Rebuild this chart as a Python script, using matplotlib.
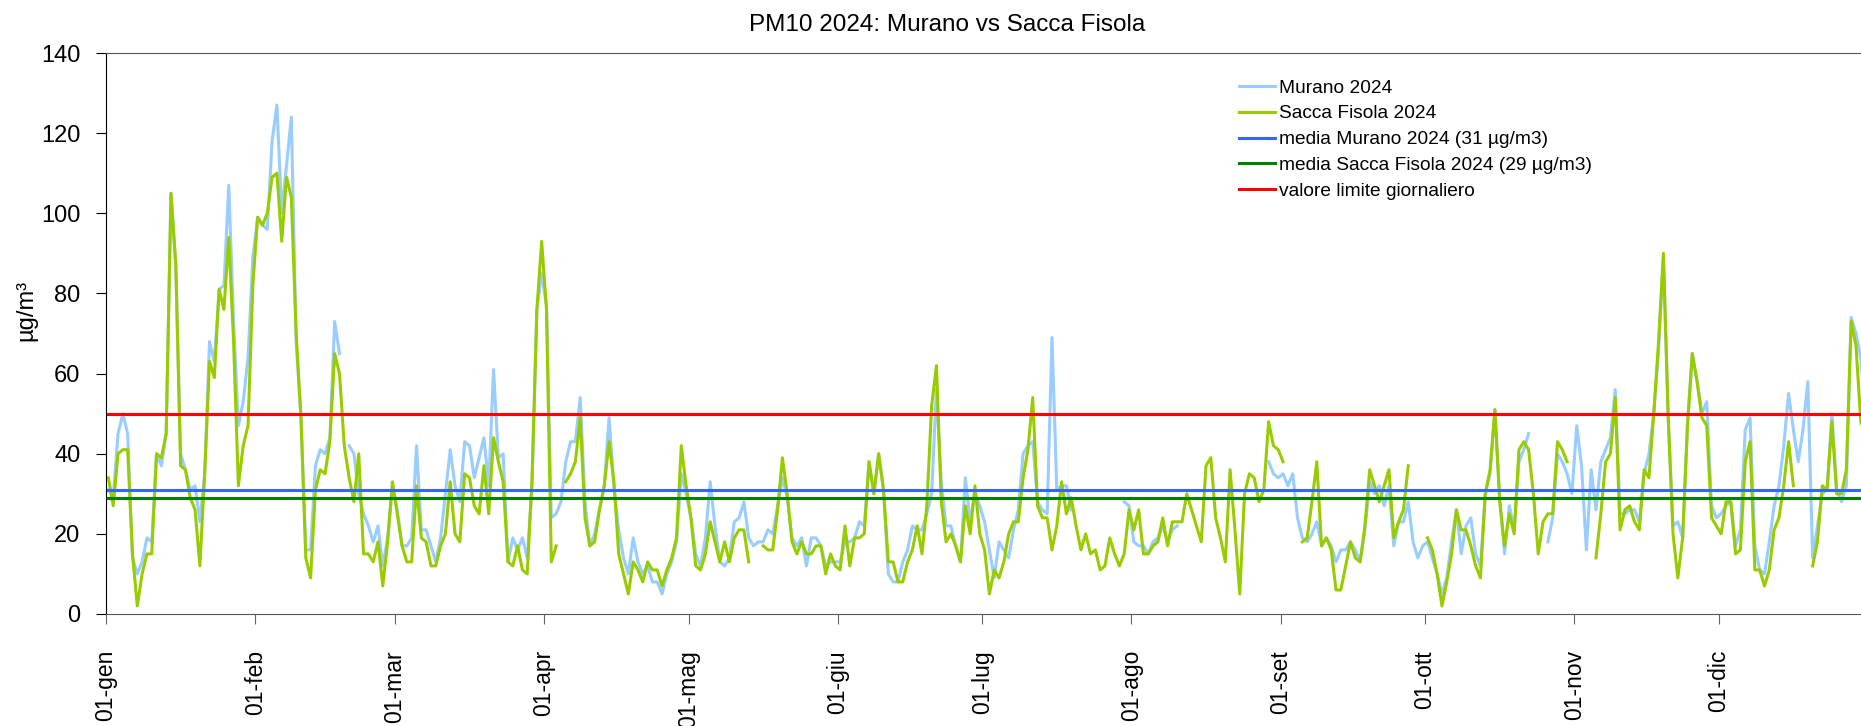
import numpy as np
import matplotlib
matplotlib.use("Agg")
import matplotlib.pyplot as plt
from matplotlib.lines import Line2D

plt.rcParams['font.family'] = ['Liberation Sans', 'DejaVu Sans']

N = None  # missing day

# daily PM10 (ug/m3), one row per month, 2024 (366 days)
murano = [
    31, 29, 45, 50, 45, 14, 10, 13, 19, 18, 40, 37, 45, 105, 87, 40, 36, 31, 32, 23, 35, 68, 63, 81, 82, 107, 73, 47, 53, 64, 89,
    99, 97, 96, 118, 127, 100, 112, 124, 68, 49, 16, 16, 37, 41, 40, 44, 73, 65, N, 42, 40, 30, 25, 22, 18, 22, 12, 19, 32,
    26, 17, 17, 19, 42, 21, 21, 17, 13, 19, 30, 41, 32, 28, 43, 42, 34, 39, 44, 32, 61, 39, 40, 13, 19, 16, 19, 14, 32, 76, 85,
    77, 24, 25, 28, 38, 43, 43, 54, 28, 17, 20, 26, 32, 49, 32, 21, 14, 10, 19, 13, 10, 12, 8, 8, 5, 10, 13, 18, 35, 30,
    24, 15, 12, 19, 33, 22, 13, 12, 14, 23, 24, 28, 19, 17, 18, 18, 21, 20, 27, 34, 29, 19, 17, 19, 12, 19, 19, 17, 12, 13, 13,
    13, 18, 18, 19, 23, 22, 38, 30, 40, 31, 10, 8, 8, 13, 16, 22, 21, 21, 25, 30, 56, 33, 22, 22, 17, 13, 34, 23, 30, 27,
    23, 16, 9, 18, 16, 14, 21, 26, 40, 42, 43, 28, 26, 25, 69, 31, 32, 32, 26, N, N, N, N, N, N, N, N, N, N, 28, 27,
    18, 17, 17, 15, 18, 19, 22, 18, 21, 22, N, N, N, N, N, N, N, N, N, N, N, N, N, N, N, N, N, N, 38, 35, 34,
    35, 32, 35, 24, 19, 18, 20, 23, 17, 19, 17, 13, 16, 16, 18, 16, 13, 21, 33, 30, 32, 27, 32, 17, 23, 23, 28, 18, 14, 17,
    18, 14, 10, 5, 9, 18, 26, 15, 22, 24, 15, 12, 30, 35, 51, 29, 15, 27, 21, 38, 41, 45, N, N, N, 18, 24, 40, 38, 35, 30,
    47, 37, 16, 36, 26, 38, 41, 44, 56, 25, 25, 26, 26, 23, 35, 40, 50, 66, 89, 49, 22, 23, 19, 47, 65, 58, 50, 53, 27, 24,
    25, 27, 28, 17, 21, 46, 49, 17, 11, 10, 18, 27, 32, 42, 55, 46, 38, 46, 58, 14, 22, 30, 31, 50, 31, 28, 32, 74, 70, 64, 48,
]

sacca = [
    34, 27, 40, 41, 41, 15, 2, 10, 15, 15, 40, 39, 45, 105, 87, 37, 36, 29, 26, 12, 35, 63, 59, 81, 76, 94, 68, 32, 42, 47, 82,
    99, 97, 100, 109, 110, 93, 109, 104, 70, 49, 14, 9, 31, 36, 35, 43, 65, 60, 42, 34, 28, 40, 15, 15, 13, 18, 7, 18, 33,
    25, 17, 13, 13, 32, 19, 18, 12, 12, 17, 20, 33, 20, 18, 35, 34, 27, 25, 37, 25, 44, 38, 33, 13, 12, 17, 11, 10, 34, 76, 93,
    76, 13, 17, N, 33, 35, 38, 49, 24, 17, 18, 26, 32, 43, 33, 15, 10, 5, 13, 11, 8, 13, 11, 11, 7, 11, 14, 19, 42, 32,
    24, 12, 11, 15, 23, 18, 13, 18, 13, 19, 21, 21, 13, N, N, 17, 16, 16, 26, 39, 30, 18, 15, 18, 15, 15, 17, 17, 10, 15, 12,
    11, 22, 12, 19, 19, 20, 38, 30, 40, 31, 13, 13, 8, 8, 13, 16, 22, 15, 27, 52, 62, 28, 18, 20, 17, 13, 27, 20, 32, 20,
    16, 5, 11, 9, 13, 20, 23, 23, 34, 41, 54, 27, 24, 24, 16, 22, 33, 25, 29, 22, 16, 20, 15, 16, 11, 12, 19, 15, 12, 15, 26,
    21, 26, 15, 15, 17, 18, 24, 17, 23, 23, 23, 30, 26, 22, 18, 37, 39, 24, 19, 13, 36, 21, 5, 30, 35, 34, 28, 31, 48, 42, 41,
    38, N, N, N, 18, 19, 28, 38, 17, 19, 16, 6, 6, 12, 18, 14, 13, 22, 36, 32, 28, 32, 36, 19, 23, 26, 37, N, N, N,
    19, 16, 10, 2, 8, 15, 26, 21, 21, 17, 12, 9, 30, 36, 51, 28, 17, 25, 20, 41, 43, 41, 30, 15, 23, 25, 25, 43, 41, 38, N,
    N, N, N, N, 14, 25, 38, 40, 54, 21, 26, 27, 23, 21, 36, 34, 50, 68, 90, 49, 20, 9, 19, 47, 65, 58, 49, 47, 24, 22,
    20, 28, 28, 15, 16, 38, 43, 11, 11, 7, 11, 21, 24, 32, 43, 32, N, N, N, 12, 18, 32, 31, 48, 30, 30, 36, 73, 67, 48, 45,
]

media_murano = 31
media_sacca = 29
limite = 50

month_labels = ['01-gen', '01-feb', '01-mar', '01-apr', '01-mag', '01-giu',
                '01-lug', '01-ago', '01-set', '01-ott', '01-nov', '01-dic']
month_days = [31, 29, 31, 30, 31, 30, 31, 31, 30, 31, 30, 31]

labels = ['Murano 2024', 'Sacca Fisola 2024',
          'media Murano 2024 (31 µg/m3)', 'media Sacca Fisola 2024 (29 µg/m3)',
          'valore limite giornaliero']
colors = ['#99CCFF', '#99CC00', '#3366FF', '#008000', '#FF0000']

mur = np.array([np.nan if v is None else v for v in murano], dtype=float)
sac = np.array([np.nan if v is None else v for v in sacca], dtype=float)
x = np.arange(len(mur)) + 0.5
month_start = np.concatenate([[0], np.cumsum(month_days)[:-1]])

fig = plt.figure(figsize=(18.61, 7.26), dpi=100)
ax = fig.add_axes([106 / 1861, 112 / 726, 1762 / 1861, 561 / 726])

lw = 2.2
ax.plot(x, mur, color=colors[0], lw=lw)
ax.plot(x, sac, color=colors[1], lw=lw)
ax.axhline(media_murano, color=colors[2], lw=lw)
ax.axhline(media_sacca, color=colors[3], lw=lw)
ax.axhline(limite, color=colors[4], lw=lw)

ax.set_xlim(0, 366)
ax.set_ylim(0, 140)
ax.set_yticks(range(0, 141, 20))
ax.set_xticks(month_start)
ax.set_xticklabels(month_labels, rotation=90)
ax.tick_params(axis='x', length=7, color='#666666', pad=19, labelsize=16.5)
ax.tick_params(axis='y', length=7, pad=11.5, labelsize=17)

ax.spines['right'].set_visible(False)
ax.spines['top'].set_color('#555555')
ax.spines['bottom'].set_color('#555555')
ax.spines['left'].set_color('black')

# legend
handles = [Line2D([], [], color=c, lw=lw) for c in colors]
ax.legend(handles, labels, loc='upper left', bbox_to_anchor=(0.6658, 0.891),
          bbox_transform=fig.transFigure, frameon=False, fontsize=13.8,
          handlelength=1.9, handletextpad=0.2, labelspacing=0.44,
          borderpad=0, borderaxespad=0)

fig.text(0.509, 0.966, 'PM10 2024: Murano vs Sacca Fisola', ha='center', va='center', fontsize=17.5)
fig.text(0.014, 0.572, 'µg/m³', rotation=90, ha='center', va='center', fontsize=17)

fig.savefig('out.png', dpi=100)
